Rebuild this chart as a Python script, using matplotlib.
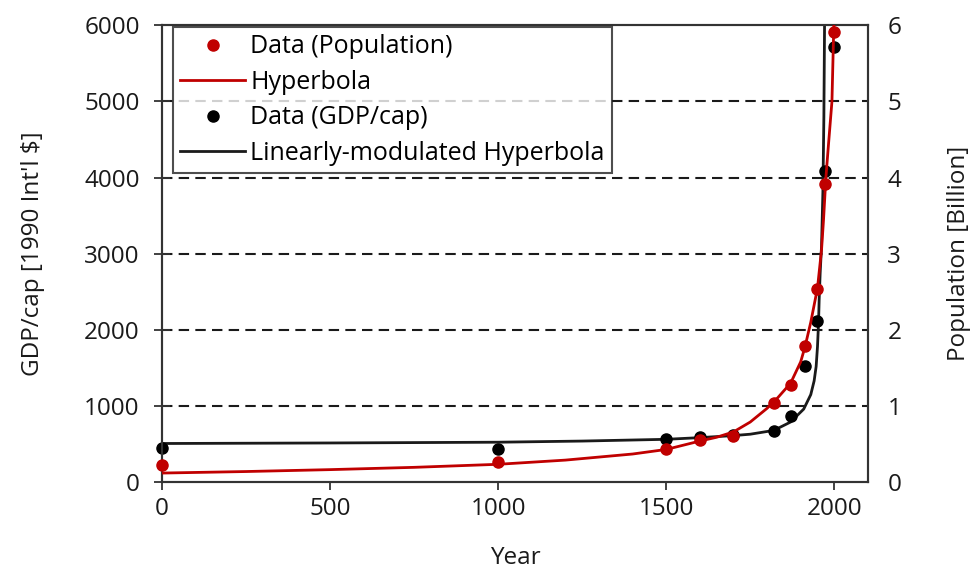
import matplotlib.pyplot as plt
from matplotlib.lines import Line2D

plt.rcParams['font.family'] = ['Open Sans', 'DejaVu Sans']

RED = '#c00000'
INK = '#1a1a1a'

# Data points (Maddison)
years = [0, 1000, 1500, 1600, 1700, 1820, 1870, 1913, 1950, 1973, 1998]
population = [0.23, 0.27, 0.44, 0.56, 0.60, 1.04, 1.27, 1.79, 2.53, 3.92, 5.91]  # billion
gdp_cap = [445, 436, 566, 593, 615, 667, 873, 1525, 2111, 4091, 5709]  # 1990 Int'l $

# Fitted curves
hyp_years = [0, 250, 500, 750, 1000, 1200, 1400, 1500, 1600, 1650, 1700, 1750, 1800,
             1830, 1870, 1900, 1913, 1930, 1950, 1956, 1962, 1968, 1975, 1983, 1993,
             1998, 2001]
hyp_pop = [0.12, 0.14, 0.165, 0.195, 0.235, 0.29, 0.37, 0.43, 0.54, 0.59, 0.66, 0.79, 0.97,
           1.10, 1.30, 1.58, 1.78, 2.10, 2.55, 2.80, 3.05, 3.45, 4.0, 4.45, 5.0,
           5.9, 6.3]

mod_years = [0, 500, 1000, 1250, 1500, 1600, 1700, 1750, 1820, 1870, 1909, 1930,
             1940, 1946, 1950, 1953, 1955, 1958, 1962, 1966, 1969, 1971, 1972]
mod_gdp = [508, 515, 525, 540, 563, 585, 612, 630, 680, 790, 960, 1150,
           1330, 1520, 1780, 2080, 2400, 2750, 3100, 3800, 4800, 6000, 6600]

fig = plt.figure(figsize=(9.73, 5.72), dpi=100)
ax = fig.add_axes([0.1665, 0.157, 0.7255, 0.799])
ax2 = ax.twinx()

# grid (left axis)
for g in [1000, 2000, 3000, 4000, 5000]:
    ax.axhline(g, color=INK, lw=1.5, ls=(0, (5, 3)), zorder=1)

ax.plot(mod_years, mod_gdp, color=INK, lw=2, zorder=3)
ax.plot(years, gdp_cap, 'o', color='black', ms=8, clip_on=False, zorder=4)
ax2.plot(hyp_years, hyp_pop, color=RED, lw=2, zorder=3)
ax2.plot(years, population, 'o', color=RED, ms=8, clip_on=False, zorder=4)

ax.set_xlim(0, 2100)
ax.set_ylim(0, 6000)
ax2.set_ylim(0, 6)
ax.set_xticks([0, 500, 1000, 1500, 2000])
ax.set_yticks(range(0, 7000, 1000))
ax2.set_yticks(range(0, 7))

for a in (ax, ax2):
    for s in a.spines.values():
        s.set_color('#333333')
        s.set_linewidth(1.5)

FS = 17.5
ax.tick_params(axis='y', direction='inout', length=12, width=1.3, pad=10,
               labelsize=FS, colors='#333333', labelcolor=INK)
ax.tick_params(axis='x', direction='out', length=6, width=1.3, pad=5,
               labelsize=FS, colors='#333333', labelcolor=INK)
ax2.tick_params(axis='y', length=0, pad=14, labelsize=FS, labelcolor=INK)

ax.set_xlabel('Year', fontsize=FS, color=INK, labelpad=18)
ax.set_ylabel("GDP/cap [1990 Int'l $]", fontsize=FS, color=INK, labelpad=28)
ax2.set_ylabel('Population [Billion]', fontsize=FS, color=INK, labelpad=33)

handles = [
    Line2D([], [], ls='none', marker='o', color=RED, ms=8),
    Line2D([], [], color=RED, lw=2),
    Line2D([], [], ls='none', marker='o', color='black', ms=8),
    Line2D([], [], color=INK, lw=2),
]
labels = ['Data (Population)', 'Hyperbola', 'Data (GDP/cap)',
          'Linearly-modulated Hyperbola']
leg = ax2.legend(handles, labels, loc='upper left', bbox_to_anchor=(0.015, 0.996),
                 fontsize=18, frameon=True, fancybox=False, borderaxespad=0,
                 handlelength=2.6, handletextpad=0.2, labelspacing=0.42,
                 borderpad=0.3, numpoints=1)
leg.get_frame().set_edgecolor('#222222')
leg.get_frame().set_linewidth(1.5)
leg.set_zorder(10)

fig.savefig('out.png', dpi=100)
